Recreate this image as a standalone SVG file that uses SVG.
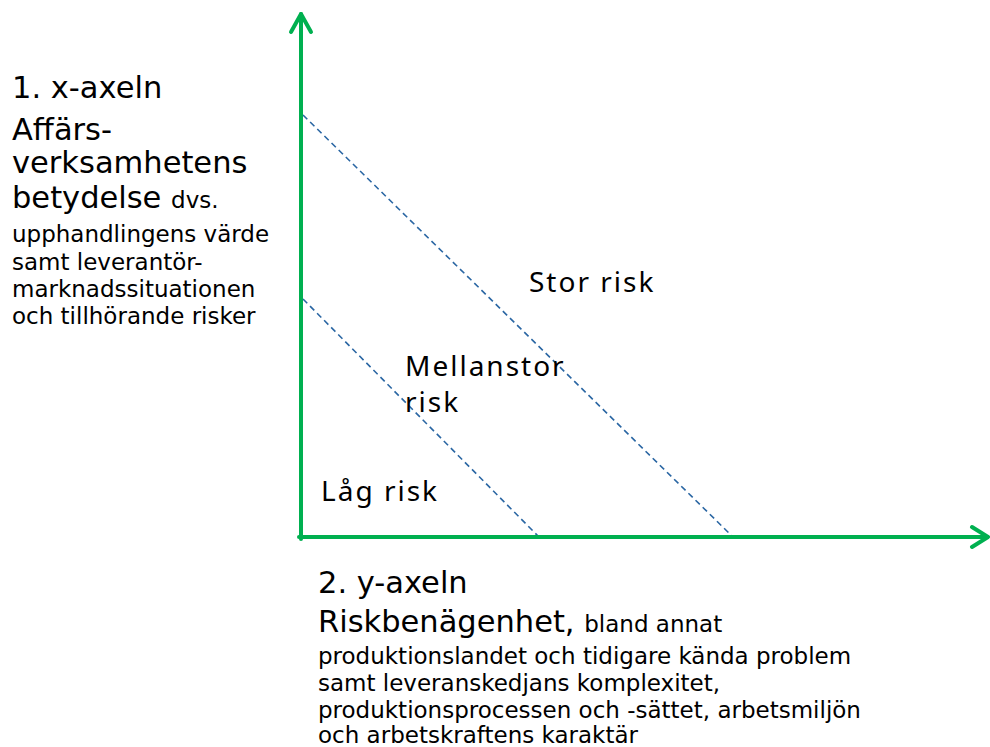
<svg xmlns="http://www.w3.org/2000/svg" width="990" height="747" viewBox="0 0 990 747">
<style>
.axis{stroke:#00b050;stroke-width:4;fill:none;stroke-linecap:round;stroke-linejoin:round}
.dash{stroke:#2a66a3;stroke-width:1.6;stroke-dasharray:6 4;fill:none}
.big{font-family:"DejaVu Sans",Verdana,sans-serif;font-size:30.5px;fill:#000}
.small{font-family:"DejaVu Sans",Verdana,sans-serif;font-size:23px;fill:#000}
.risk{font-family:"Noto Sans","Open Sans",sans-serif;font-size:28px;letter-spacing:2px;fill:#000}
</style>
<g id="connectors">
<line class="dash" x1="303" y1="115" x2="732" y2="536"/>
<line class="dash" x1="303" y1="299" x2="538" y2="536"/>
<path class="axis" d="M301 539 L301 14"/>
<path class="axis" d="M291 32 L301 14 L311 32"/>
<path class="axis" d="M299 537 L987 537"/>
<path class="axis" d="M972 527 L988 537 L972 547"/>
</g>
<g id="x-axis-label">
<text class="big" x="12" y="98">1. x-axeln</text>
<text class="big" x="12" y="140">Affärs-</text>
<text class="big" x="12" y="173">verksamhetens</text>
<text class="big" x="12" y="208">betydelse <tspan class="small">dvs.</tspan></text>
<text class="small" x="12" y="242">upphandlingens värde</text>
<text class="small" x="12" y="270">samt leverantör-</text>
<text class="small" x="12" y="297">marknadssituationen</text>
<text class="small" x="12" y="324">och tillhörande risker</text>
</g>
<g id="y-axis-label">
<text class="big" x="318" y="593">2. y-axeln</text>
<text class="big" x="318" y="632">Riskbenägenhet, <tspan class="small">bland annat</tspan></text>
<text class="small" x="318" y="664">produktionslandet och tidigare kända problem</text>
<text class="small" x="318" y="691">samt leveranskedjans komplexitet,</text>
<text class="small" x="318" y="718">produktionsprocessen och -sättet, arbetsmiljön</text>
<text class="small" x="318" y="743">och arbetskraftens karaktär</text>
</g>
<g id="stor-risk"><text class="risk" x="529" y="292">Stor risk</text></g>
<g id="mellanstor-risk"><text class="risk" x="405" y="376">Mellanstor</text><text class="risk" x="405" y="412">risk</text></g>
<g id="lag-risk"><text class="risk" x="321" y="501">Låg risk</text></g>
</svg>
